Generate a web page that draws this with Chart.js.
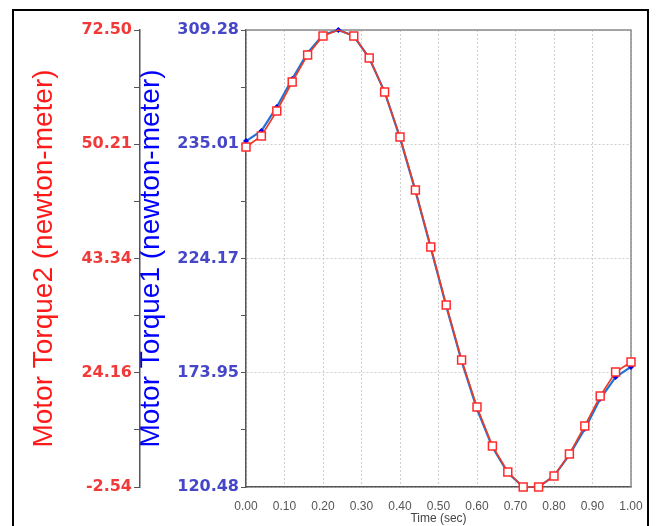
<!DOCTYPE html>
<html>
<head>
<meta charset="utf-8">
<script src="https://cdn.jsdelivr.net/npm/chart.js@4/dist/chart.umd.min.js"></script>
<style>
  html, body { margin: 0; padding: 0; background: #fff; }
  #wrap { width: 664px; height: 526px; }
</style>
</head>
<body>
<div id="wrap"><canvas id="torqueChart" width="664" height="526"></canvas></div>
<script>
// time samples (sec)
const times = [0.00, 0.04, 0.08, 0.12, 0.16, 0.20, 0.24, 0.28, 0.32, 0.36, 0.40, 0.44, 0.48,
               0.52, 0.56, 0.60, 0.64, 0.68, 0.72, 0.76, 0.80, 0.84, 0.88, 0.92, 0.96, 1.00];
// Motor Torque1 (blue, inner axis)
const torque1 = [263.4, 267.6, 277.5, 289.0, 299.8, 307.2, 309.28, 306.8, 297.7, 283.7, 264.7, 242.8, 219.2,
                 195.3, 172.5, 152.7, 137.0, 126.3, 120.48, 120.48, 125.0, 133.7, 144.5, 156.9, 165.9, 170.1];
// Motor Torque2 (red, outer axis)
const torque2 = [53.29, 55.10, 59.20, 63.96, 68.40, 71.52, 72.50, 71.52, 67.90, 62.32, 54.93, 46.23, 36.87,
                 27.35, 18.31, 10.60, 4.19, -0.08, -2.54, -2.54, -0.73, 2.88, 7.48, 12.40, 16.34, 17.99];
// axis labels as printed (bottom to top)
const torque1Ticks = ['120.48', '173.95', '224.17', '235.01', '309.28'];
const torque2Ticks = ['-2.54', '24.16', '43.34', '50.21', '72.50'];

const toPoints = (ys) => ys.map((y, i) => ({ x: times[i], y: y }));

const framePlugin = {
  id: 'frame',
  beforeDatasetsDraw(chart) {
    const { ctx, chartArea: a } = chart;
    ctx.save();
    ctx.strokeStyle = '#8c8c8c';
    ctx.lineWidth = 1.5;
    ctx.beginPath();
    ctx.moveTo(a.left, a.top);
    ctx.lineTo(a.right, a.top);
    ctx.lineTo(a.right, a.bottom);
    ctx.stroke();
    ctx.restore();
  },
  afterDraw(chart) {
    const ctx = chart.ctx;
    ctx.save();
    ctx.strokeStyle = '#000';
    ctx.lineWidth = 2;
    ctx.strokeRect(13, 10, 635, 560);
    ctx.restore();
  }
};

const tickFont = { family: "'DejaVu Sans', sans-serif", size: 16, weight: 'bold' };
const titleFont = { family: "'Liberation Sans', Arial, sans-serif", size: 28, lineHeight: 1 };
const majorGrid = (c) => (c.index % 2 === 0 ? '#cfcfcf' : 'rgba(0,0,0,0)');

new Chart(document.getElementById('torqueChart'), {
  type: 'line',
  data: {
    datasets: [
      {
        label: 'Motor Torque2',
        data: toPoints(torque2),
        yAxisID: 'y2',
        borderColor: '#ec3b24',
        borderWidth: 1.6,
        pointStyle: 'rect',
        pointRadius: (c) => (c.dataIndex === 6 ? 0 : 5.6),
        pointBackgroundColor: '#fff',
        pointBorderColor: '#ff2b2b',
        pointBorderWidth: 1.5,
        clip: false,
        tension: 0
      },
      {
        label: 'Motor Torque1',
        data: toPoints(torque1),
        yAxisID: 'y1',
        borderColor: '#2273d8',
        borderWidth: 2.2,
        pointStyle: 'rectRot',
        pointRadius: 3,
        pointBackgroundColor: '#0000ee',
        pointBorderColor: '#0000ee',
        pointBorderWidth: 0,
        clip: false,
        tension: 0
      }
    ]
  },
  options: {
    responsive: false,
    animation: false,
    layout: { padding: { left: 0, right: 33, top: 30, bottom: 0 } },
    plugins: {
      legend: { display: false },
      tooltip: { enabled: false }
    },
    scales: {
      x: {
        type: 'linear',
        min: 0,
        max: 1,
        grid: {
          color: majorGrid,
          lineWidth: 1,
          drawTicks: false
        },
        border: { display: true, color: '#555', width: 1.5, dash: [2, 2] },
        ticks: {
          stepSize: 0.05,
          autoSkip: false,
          maxRotation: 0,
          padding: 12,
          color: '#555',
          font: { family: "'Liberation Sans', Arial, sans-serif", size: 12 },
          callback: (value, index) => (index % 2 === 0 ? Number(value).toFixed(2) : '')
        },
        title: {
          display: true,
          text: 'Time (sec)',
          color: '#444',
          padding: 0,
          font: { family: "'Liberation Sans', Arial, sans-serif", size: 12 }
        },
        afterFit: (scale) => { scale.height = 39; }
      },
      y1: {
        type: 'linear',
        position: 'left',
        weight: 0,
        min: 120.48,
        max: 309.28,
        grid: {
          color: majorGrid,
          tickColor: '#555',
          tickLength: 5,
          drawOnChartArea: true
        },
        border: { display: true, color: '#555', width: 1.5, dash: [2, 2] },
        ticks: {
          count: 9,
          autoSkip: false,
          padding: 2,
          color: '#4646c8',
          font: tickFont,
          callback: (value, index) => (index % 2 === 0 ? torque1Ticks[index / 2] : '')
        },
        title: {
          display: true,
          text: 'Motor Torque1 (newton-meter)',
          color: '#0000ff',
          padding: { top: -3, bottom: 0 },
          font: titleFont
        },
        afterFit: (scale) => { scale.width = 106; }
      },
      y2: {
        type: 'linear',
        position: 'left',
        weight: 1,
        min: -2.54,
        max: 72.5,
        grid: {
          color: '#555',
          tickColor: '#555',
          tickLength: 6,
          drawOnChartArea: false
        },
        border: { display: true, color: '#555', width: 1.5 },
        ticks: {
          count: 9,
          autoSkip: false,
          padding: 2,
          color: '#f03a3a',
          font: tickFont,
          callback: (value, index) => (index % 2 === 0 ? torque2Ticks[index / 2] : '')
        },
        title: {
          display: true,
          text: 'Motor Torque2 (newton-meter)',
          color: '#ff1a1a',
          padding: { top: 30, bottom: 0 },
          font: titleFont
        },
        afterFit: (scale) => { scale.width = 140; }
      }
    }
  },
  plugins: [framePlugin]
});
</script>
</body>
</html>
